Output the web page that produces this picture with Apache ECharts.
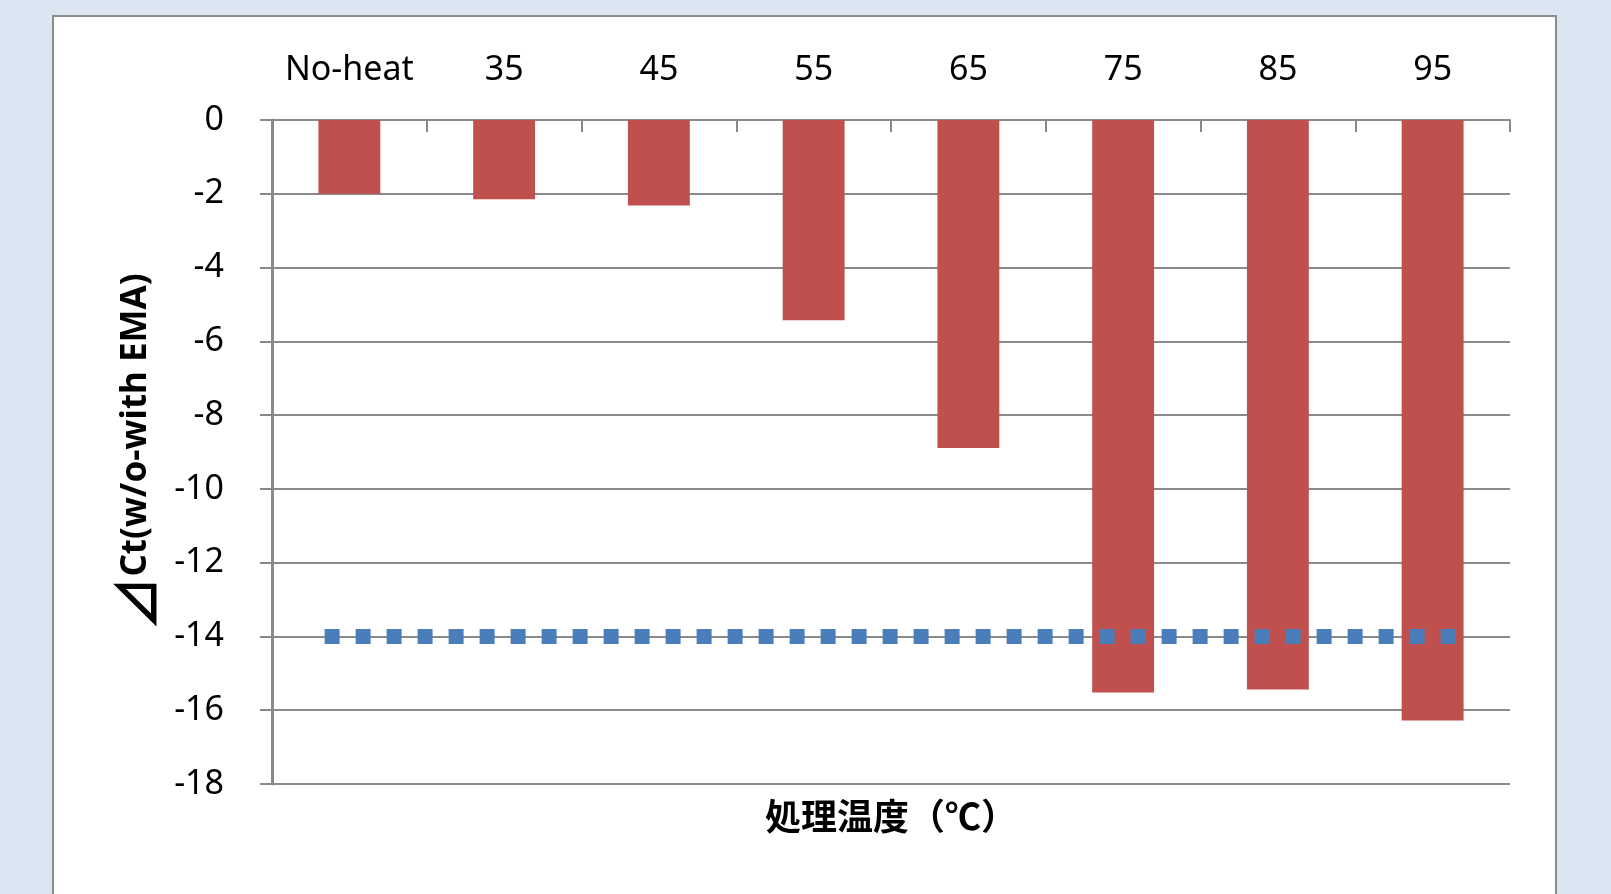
<!DOCTYPE html>
<html>
<head>
    <meta charset="utf-8">
    <title>処理温度</title>
    <script src="https://cdn.jsdelivr.net/npm/echarts@6/dist/echarts.min.js"></script>
    <style>
        html, body { margin: 0; padding: 0; background: #dce6f2; }
        #chart1 { width: 1611px; height: 894px; }
    </style>
</head>
<body>
<div id="chart1"></div>
<script type="text/javascript">
    // 横軸のカテゴリ（処理温度）
    var categories = ['No-heat', '35', '45', '55', '65', '75', '85', '95'];
    // ⊿Ct の値
    var deltaCt = [-2.0, -2.15, -2.32, -5.43, -8.89, -15.52, -15.44, -16.28];
    // 基準線（-14）とその両端（カテゴリ単位）
    var refValue = -14;
    var refSpan = [0.34, 7.66];
    var yTicks = { min: -18, max: 0, step: 2 };

    var refData = refSpan.map(function (x) { return [x, refValue]; });

    var myChart1 = echarts.init(document.getElementById('chart1'));
    myChart1.setOption({
        backgroundColor: '#dce6f2',
        animation: false,
        graphic: [{
            type: 'rect',
            z: -10,
            shape: { x: 53, y: 16, width: 1503, height: 900 },
            style: { fill: '#ffffff', stroke: '#8c8c8c', lineWidth: 2 }
        }],
        grid: { left: 272, top: 120, right: 101, bottom: 110 },
        xAxis: [{
            type: 'category',
            position: 'top',
            data: categories,
            axisLine: { show: true, lineStyle: { color: '#8a8a8a', width: 2 } },
            axisTick: { show: true, inside: true, length: 12, lineStyle: { color: '#8a8a8a', width: 2 } },
            axisLabel: { color: '#000', fontSize: 34, fontFamily: 'Noto Sans', margin: 33, interval: 0 },
            splitLine: { show: false }
        }, {
            type: 'value',
            position: 'bottom',
            min: 0,
            max: categories.length,
            show: true,
            axisLine: { show: false },
            axisTick: { show: false },
            axisLabel: { show: false },
            splitLine: { show: false },
            name: '処理温度（℃）',
            nameLocation: 'middle',
            nameGap: 14,
            nameTextStyle: {
                color: '#000', fontSize: 36, fontWeight: 'bold',
                fontFamily: 'Noto Sans CJK JP', verticalAlign: 'top'
            }
        }],
        yAxis: {
            type: 'value',
            min: yTicks.min,
            max: yTicks.max,
            interval: yTicks.step,
            name: '{t|⊿}Ct(w/o-with EMA)',
            nameLocation: 'middle',
            nameGap: 108,
            nameTextStyle: {
                color: '#000', fontSize: 35, fontWeight: 'bold', fontFamily: 'Noto Sans',
                rich: {
                    t: {
                        fontSize: 54, fontWeight: 'bold', fontFamily: 'Noto Sans CJK JP',
                        color: '#000', verticalAlign: 'bottom'
                    }
                }
            },
            axisLine: { show: true, lineStyle: { color: '#8a8a8a', width: 3 } },
            axisTick: { show: true, length: 12, lineStyle: { color: '#8a8a8a', width: 2 } },
            axisLabel: { color: '#000', fontSize: 34, fontFamily: 'Noto Sans', margin: 48 },
            splitLine: { show: true, lineStyle: { color: '#8a8a8a', width: 2 } }
        },
        series: [{
            name: '⊿Ct',
            type: 'bar',
            data: deltaCt,
            barCategoryGap: '60%',
            itemStyle: { color: '#c0504d' },
            z: 2
        }, {
            name: '基準',
            type: 'line',
            xAxisIndex: 1,
            data: refData,
            symbol: 'none',
            lineStyle: { color: '#4a7ebb', width: 15, type: [15, 16], cap: 'butt' },
            z: 5
        }]
    });
</script>
</body>
</html>
